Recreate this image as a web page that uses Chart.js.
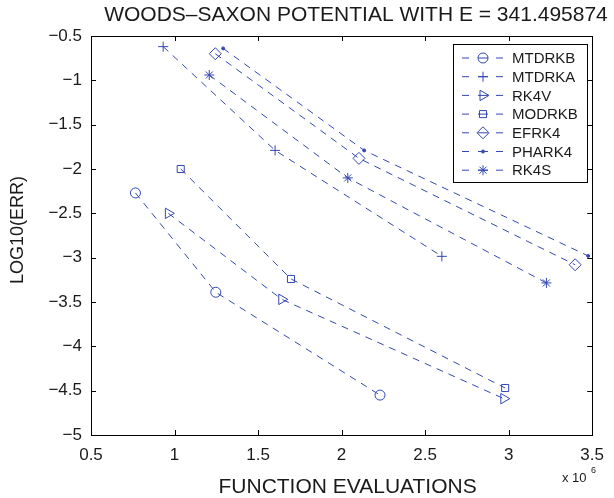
<!DOCTYPE html>
<html>
<head>
<meta charset="utf-8">
<script src="https://cdn.jsdelivr.net/npm/chart.js@4.4.1/dist/chart.umd.min.js"></script>
<style>
  html, body { margin: 0; padding: 0; background: #fff; }
  #wrap { width: 614px; height: 498px; }
</style>
</head>
<body>
<div id="wrap"><canvas id="chart" width="614" height="498"></canvas></div>
<script>
// --- data (x in units of 10^6 function evaluations) ---
const seriesNames = ['MTDRKB', 'MTDRKA', 'RK4V', 'MODRKB', 'EFRK4', 'PHARK4', 'RK4S'];

const mtdrkbX = [0.766, 1.247, 2.230];
const mtdrkbY = [-2.27, -3.39, -4.55];
const mtdrkaX = [0.932, 1.602, 2.600];
const mtdrkaY = [-0.62, -1.79, -2.985];
const rk4vX = [0.963, 1.642, 2.971];
const rk4vY = [-2.50, -3.47, -4.59];
const modrkbX = [1.037, 1.697, 2.979];
const modrkbY = [-2.00, -3.24, -4.47];
const efrk4X = [1.244, 2.104, 3.398];
const efrk4Y = [-0.70, -1.88, -3.08];
const phark4X = [1.291, 2.135, 3.476];
const phark4Y = [-0.64, -1.79, -2.98];
const rk4sX = [1.208, 2.037, 3.226];
const rk4sY = [-0.94, -2.10, -3.285];

const xTicks = [0.5, 1, 1.5, 2, 2.5, 3, 3.5];
const yTicks = [-5, -4.5, -4, -3.5, -3, -2.5, -2, -1.5, -1, -0.5];

const titleText = 'WOODS\u2013SAXON POTENTIAL WITH E = 341.495874';
const xLabel = 'FUNCTION EVALUATIONS';
const yLabel = 'LOG10(ERR)';

// --- styles ---
const BLUE = '#3447b3';
const FONT = '"Liberation Sans", Arial, Helvetica, sans-serif';
const markers = [
  { style: 'circle', radius: 5, rot: 0 },
  { style: 'cross', radius: 5, rot: 0 },
  { style: 'triangle', radius: 6, rot: 90 },
  { style: 'rect', radius: 5, rot: 0 },
  { style: 'rectRot', radius: 6, rot: 0 },
  { style: 'circle', radius: 1.5, rot: 0, filled: true },
  { style: 'star', radius: 5, rot: 0 }
];

const xs = [mtdrkbX, mtdrkaX, rk4vX, modrkbX, efrk4X, phark4X, rk4sX];
const ys = [mtdrkbY, mtdrkaY, rk4vY, modrkbY, efrk4Y, phark4Y, rk4sY];

const datasets = seriesNames.map((name, i) => ({
  label: name,
  data: xs[i].map((x, j) => ({ x: x, y: ys[i][j] })),
  showLine: true,
  borderColor: BLUE,
  borderWidth: 1,
  borderDash: [7, 6],
  pointStyle: markers[i].style,
  pointRadius: markers[i].radius,
  pointRotation: markers[i].rot,
  pointBorderColor: BLUE,
  pointBackgroundColor: markers[i].filled ? BLUE : 'rgba(0,0,0,0)',
  pointBorderWidth: 1,
  clip: false
}));

const fmt = v => String(+v.toFixed(1)).replace('-', '\u2212');

// draws box, inner ticks, texts and the legend
const decorations = {
  id: 'decorations',
  afterDraw(chart) {
    const ctx = chart.ctx;
    const a = chart.chartArea;
    const sx = chart.scales.x, sy = chart.scales.y;
    ctx.save();
    ctx.strokeStyle = '#000';
    ctx.lineWidth = 1;
    ctx.setLineDash([]);
    ctx.strokeRect(Math.round(a.left) + 0.5, Math.round(a.top) + 0.5,
      Math.round(a.right - a.left), Math.round(a.bottom - a.top));

    const tl = 5;
    ctx.beginPath();
    xTicks.forEach(v => {
      const px = Math.round(sx.getPixelForValue(v)) + 0.5;
      ctx.moveTo(px, a.bottom); ctx.lineTo(px, a.bottom - tl);
      ctx.moveTo(px, a.top); ctx.lineTo(px, a.top + tl);
    });
    yTicks.forEach(v => {
      const py = Math.round(sy.getPixelForValue(v)) + 0.5;
      ctx.moveTo(a.left, py); ctx.lineTo(a.left + tl, py);
      ctx.moveTo(a.right, py); ctx.lineTo(a.right - tl, py);
    });
    ctx.stroke();

    // title and axis labels
    ctx.fillStyle = '#1a1a1a';
    ctx.textAlign = 'center';
    ctx.textBaseline = 'middle';
    ctx.font = '21px ' + FONT;
    ctx.fillText(titleText, 356, 15);
    ctx.fillText(xLabel, (a.left + a.right) / 2 + 6, 487);
    ctx.save();
    ctx.translate(18, 230);
    ctx.rotate(-Math.PI / 2);
    ctx.font = '18px ' + FONT;
    ctx.fillText(yLabel, 0, 0);
    ctx.restore();

    ctx.textAlign = 'left';
    ctx.textBaseline = 'alphabetic';
    ctx.font = '13px ' + FONT;
    ctx.fillText('x 10', 562, 482);
    ctx.font = '9px ' + FONT;
    ctx.fillText('6', 591, 473);

    // legend
    const lx = 453, ly = 44, lw = 134, lh = 138;
    ctx.fillStyle = '#fff';
    ctx.fillRect(lx, ly, lw, lh);
    ctx.strokeStyle = '#000';
    ctx.strokeRect(lx + 0.5, ly + 0.5, lw, lh);
    const drawPoint = Chart.helpers && Chart.helpers.drawPoint;
    seriesNames.forEach((name, i) => {
      const cy = ly + 14 + i * 18.7;
      ctx.strokeStyle = BLUE;
      ctx.lineWidth = 1;
      ctx.setLineDash([]);
      ctx.beginPath();
      ctx.moveTo(462, cy); ctx.lineTo(469, cy);
      ctx.moveTo(478, cy); ctx.lineTo(488, cy);
      ctx.moveTo(496, cy); ctx.lineTo(503, cy);
      ctx.stroke();
      if (drawPoint) {
        ctx.fillStyle = markers[i].filled ? BLUE : 'rgba(0,0,0,0)';
        drawPoint(ctx, {
          pointStyle: markers[i].style,
          radius: markers[i].radius,
          rotation: markers[i].rot,
          borderWidth: 1
        }, 483, cy);
      }
      ctx.fillStyle = '#1a1a1a';
      ctx.font = '15px ' + FONT;
      ctx.textBaseline = 'middle';
      ctx.fillText(name, 512, cy + 1);
    });
    ctx.restore();
  }
};

new Chart(document.getElementById('chart'), {
  type: 'scatter',
  data: { datasets: datasets },
  options: {
    responsive: false,
    animation: false,
    layout: { padding: { top: 36, right: 16, left: 0, bottom: 0 } },
    plugins: {
      legend: { display: false },
      title: { display: false },
      tooltip: { enabled: false }
    },
    scales: {
      x: {
        type: 'linear',
        min: 0.5,
        max: 3.5,
        afterFit: s => { s.height = 63; },
        afterBuildTicks: s => { s.ticks = xTicks.map(v => ({ value: v })); },
        grid: { display: false, drawTicks: false },
        border: { display: false },
        ticks: {
          padding: 10,
          color: '#1a1a1a',
          font: { family: FONT, size: 17 },
          maxRotation: 0,
          callback: v => fmt(v)
        }
      },
      y: {
        type: 'linear',
        min: -5,
        max: -0.5,
        afterFit: s => { s.width = 91; },
        afterBuildTicks: s => { s.ticks = yTicks.map(v => ({ value: v })); },
        grid: { display: false, drawTicks: false },
        border: { display: false },
        ticks: {
          padding: 9,
          color: '#1a1a1a',
          font: { family: FONT, size: 17 },
          callback: v => fmt(v)
        }
      }
    }
  },
  plugins: [decorations]
});
</script>
</body>
</html>
